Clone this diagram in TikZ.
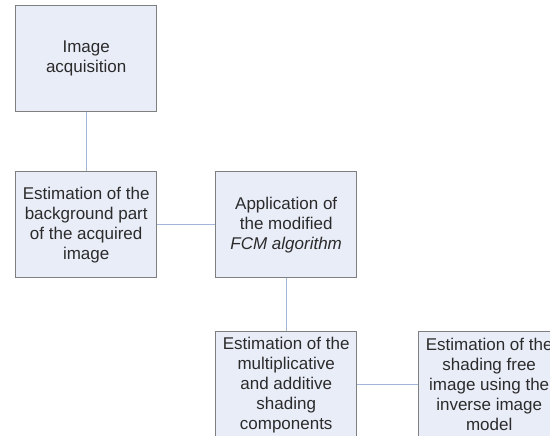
\documentclass[tikz,border=0pt]{standalone}
\usepackage{fontspec}
\setmainfont{Liberation Sans}
\definecolor{boxfill}{HTML}{E9EDF8}
\definecolor{boxline}{HTML}{7F7F7F}
\definecolor{conn}{HTML}{A3B6D9}
\definecolor{txt}{HTML}{2B2B2B}
\begin{document}
\begin{tikzpicture}[x=1pt,y=-1pt,
  procbox/.style={draw=boxline,fill=boxfill,line width=1.4pt,minimum width=141pt,minimum height=106pt,
    inner sep=0pt,align=center,text=txt,font=\fontsize{17}{20}\selectfont,anchor=north west},
  link/.style={draw=conn,line width=1.4pt}]
\useasboundingbox (0,0) rectangle (550,436);
\clip (0,0) rectangle (550,436);
\node[procbox] (acq) at (15,5) {Image\\acquisition};
\node[procbox] (bg) at (15,171) {Estimation of the\\background part\\of the acquired\\image};
\node[procbox] (fcm) at (215,171) {Application of\\the modified\\\textit{FCM algorithm}};
\node[procbox] (shade) at (215,331) {Estimation of the\\multiplicative\\and additive\\shading\\components};
\node[procbox] (free) at (418,331) {Estimation of the\\shading free\\image using the\\inverse image\\model};
\draw[link] (acq.south) -- (bg.north);
\draw[link] (bg.east) -- (fcm.west);
\draw[link] (fcm.south) -- (shade.north);
\draw[link] (shade.east) -- (free.west);
\end{tikzpicture}
\end{document}
